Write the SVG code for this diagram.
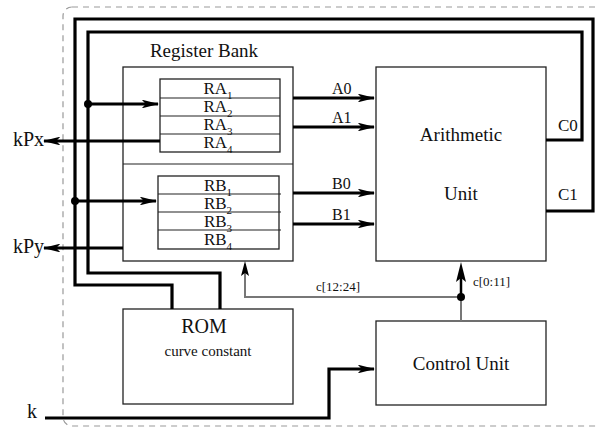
<svg xmlns="http://www.w3.org/2000/svg" width="597" height="429" viewBox="0 0 597 429" font-family="'Liberation Serif', 'DejaVu Serif', 'Times New Roman', serif">
<style>
text{font-family:'Liberation Serif','DejaVu Serif','Times New Roman',serif;fill:#111}
.box{fill:#fff;stroke:#222;stroke-width:1.3}
.thin{fill:none;stroke:#222;stroke-width:1.1}
.bus{fill:none;stroke:#000;stroke-width:3.2}
.gray{fill:none;stroke:#777;stroke-width:2}
.reg{font-size:17px;text-anchor:middle}
.mid{text-anchor:middle}
</style>
<defs>
<marker id="ah" viewBox="0 0 16 8" refX="15" refY="4" markerWidth="5.5" markerHeight="2.75" orient="auto" markerUnits="strokeWidth">
<path d="M0,0 L16,4 L0,8 L4,4 Z" fill="#000"/>
</marker>
</defs>
<rect x="63" y="7" width="560" height="419" rx="9" fill="none" stroke="#999" stroke-width="1.2" stroke-dasharray="6,5"/>

<g id="register-bank">
<text x="204" y="57" font-size="19" class="mid">Register Bank</text>
<rect class="box" x="123" y="67" width="170" height="194"/>
<line class="thin" x1="123" y1="164" x2="293" y2="164"/>
</g>
<g id="ra">
<rect class="box" x="160" y="79" width="120" height="73"/>
<line class="thin" x1="160" y1="98" x2="280" y2="98"/>
<line class="thin" x1="160" y1="116" x2="280" y2="116"/>
<line class="thin" x1="160" y1="134" x2="280" y2="134"/>
<text class="reg" x="218" y="94">RA<tspan font-size="11" dy="5">1</tspan></text>
<text class="reg" x="218" y="112">RA<tspan font-size="11" dy="5">2</tspan></text>
<text class="reg" x="218" y="130">RA<tspan font-size="11" dy="5">3</tspan></text>
<text class="reg" x="218" y="148">RA<tspan font-size="11" dy="5">4</tspan></text>
</g>
<g id="rb">
<rect class="box" x="158" y="176" width="121" height="73"/>
<line class="thin" x1="158" y1="194" x2="281" y2="194"/>
<line class="thin" x1="158" y1="212" x2="281" y2="212"/>
<line class="thin" x1="158" y1="230" x2="281" y2="230"/>
<text class="reg" x="218" y="191">RB<tspan font-size="11" dy="5">1</tspan></text>
<text class="reg" x="218" y="209">RB<tspan font-size="11" dy="5">2</tspan></text>
<text class="reg" x="218" y="227">RB<tspan font-size="11" dy="5">3</tspan></text>
<text class="reg" x="218" y="245">RB<tspan font-size="11" dy="5">4</tspan></text>
</g>
<g id="arithmetic-unit">
<rect class="box" x="376" y="67" width="170" height="194"/>
<text x="461" y="141" font-size="19" class="mid">Arithmetic</text>
<text x="461" y="200" font-size="19" class="mid">Unit</text>
</g>
<g id="rom">
<rect class="box" x="123" y="309" width="170" height="95"/>
<text x="204" y="333" font-size="20" class="mid">ROM</text>
<text x="208" y="356" font-size="15" class="mid">curve constant</text>
</g>
<g id="control-unit">
<rect class="box" x="376" y="321" width="170" height="84"/>
<text x="461" y="370" font-size="19" class="mid">Control Unit</text>
</g>

<g id="connectors">
<polyline class="bus" points="546,211 593,211 593,19 75,19 75,285 172,285 172,309"/>
<polyline class="bus" points="546,140 582,140 582,32 88,32 88,273 220,273 220,309"/>
<circle cx="88" cy="104" r="4" fill="#000"/>
<line class="bus" x1="88" y1="104" x2="158" y2="104" marker-end="url(#ah)"/>
<circle cx="75" cy="201" r="4" fill="#000"/>
<line class="bus" x1="75" y1="201" x2="156" y2="201" marker-end="url(#ah)"/>
<line class="bus" x1="160" y1="141" x2="44" y2="141" marker-end="url(#ah)"/>
<line class="bus" x1="123" y1="248" x2="44" y2="248" marker-end="url(#ah)"/>
<line class="bus" x1="293" y1="98" x2="374" y2="98" marker-end="url(#ah)"/>
<line class="bus" x1="293" y1="127" x2="374" y2="127" marker-end="url(#ah)"/>
<line class="bus" x1="293" y1="193" x2="374" y2="193" marker-end="url(#ah)"/>
<line class="bus" x1="293" y1="224" x2="374" y2="224" marker-end="url(#ah)"/>
<polyline class="bus" points="45,418 329,418 329,369 374,369" marker-end="url(#ah)"/>
<line class="gray" x1="461" y1="321" x2="461" y2="297"/>
<polyline class="gray" points="461,297 245,297 245,264"/>
<path d="M245,261 L249,276 L245,273 L241,276 Z" fill="#000"/>
<line x1="461" y1="297" x2="461" y2="270" stroke="#000" stroke-width="2.5"/>
<path d="M461,262 L466,282 L461,278 L456,282 Z" fill="#000"/>
<circle cx="461" cy="297" r="4" fill="#000"/>
<text x="332" y="94" font-size="16">A0</text>
<text x="332" y="123" font-size="16">A1</text>
<text x="332" y="189" font-size="16">B0</text>
<text x="332" y="220" font-size="16">B1</text>
<text x="558" y="131" font-size="17">C0</text>
<text x="558" y="200" font-size="17">C1</text>
<text x="316" y="291" font-size="13">c[12:24]</text>
<text x="473" y="286" font-size="13">c[0:11]</text>
<text x="13" y="146" font-size="20">kPx</text>
<text x="13" y="253" font-size="20">kPy</text>
<text x="27" y="418" font-size="20">k</text>
</g>
</svg>
